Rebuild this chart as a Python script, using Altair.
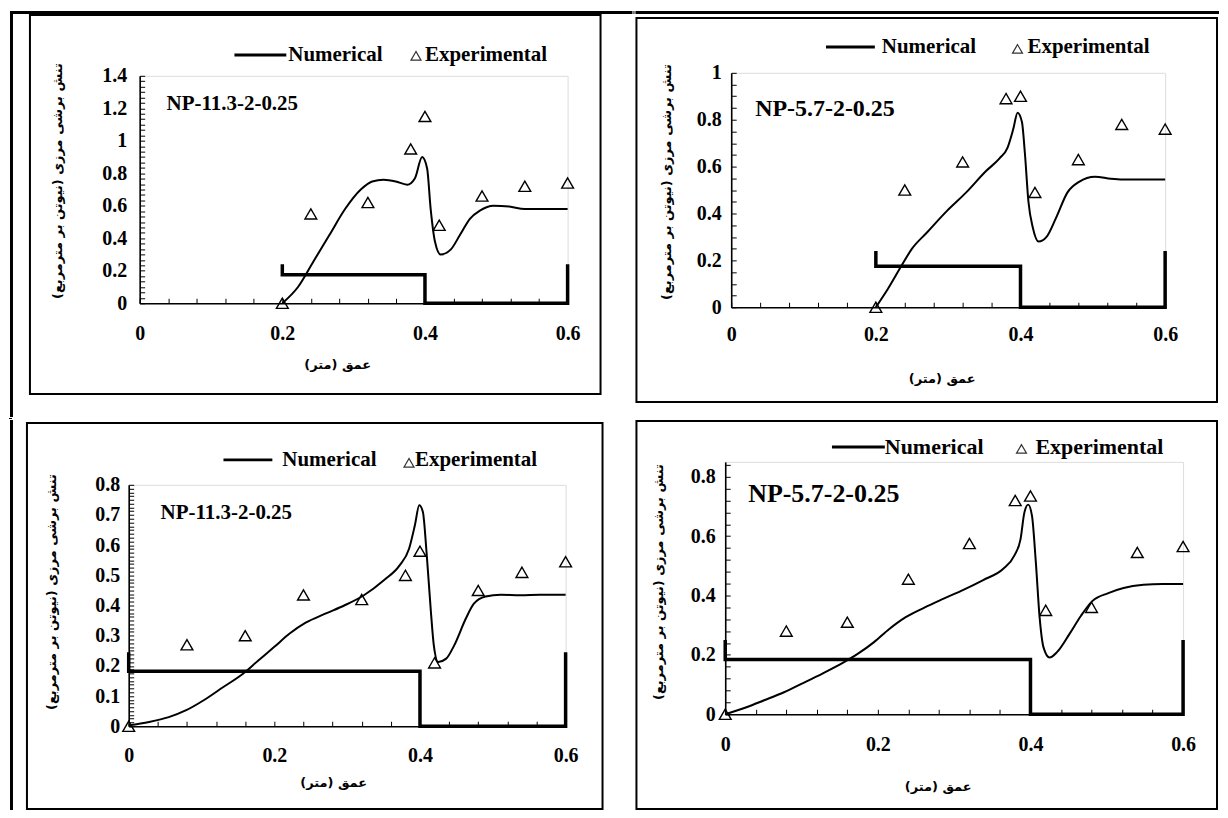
import altair as alt
import pandas as pd

FONT = "Liberation Serif"
FA_FONT = "DejaVu Sans"
Y_TITLE = "تنش برشی مرزی (نیوتن بر مترمربع)\u200f"
X_TITLE = "عمق (متر)\u200f"
NUM_LABEL = "Numerical"
EXP_LABEL = "Experimental"

# ---------------- data ----------------
# top-left panel
tl_name = "NP-11.3-2-0.25"
tl_num_x = [0.200, 0.222, 0.244, 0.266, 0.288, 0.310, 0.326, 0.342, 0.359, 0.375, 0.386, 0.396, 0.403,
            0.408, 0.414, 0.422, 0.436, 0.449, 0.463, 0.477, 0.496, 0.518, 0.540, 0.573, 0.600]
tl_num_y = [0.00, 0.10, 0.26, 0.42, 0.58, 0.70, 0.75, 0.76, 0.75, 0.73, 0.77, 0.90, 0.83,
            0.58, 0.38, 0.30, 0.33, 0.42, 0.52, 0.57, 0.60, 0.595, 0.58, 0.58, 0.58]
tl_exp_x = [0.20, 0.24, 0.32, 0.38, 0.40, 0.42, 0.48, 0.54, 0.60]
tl_exp_y = [0.00, 0.55, 0.62, 0.95, 1.15, 0.48, 0.66, 0.72, 0.74]
tl_step_x = [0.2, 0.2, 0.4, 0.4, 0.6, 0.6]
tl_step_y = [0.24, 0.175, 0.175, 0.0, 0.0, 0.24]
tl_ylabels = [0, 0.2, 0.4, 0.6, 0.8, 1, 1.2, 1.4]

# top-right panel
tr_name = "NP-5.7-2-0.25"
tr_num_x = [0.200, 0.217, 0.236, 0.250, 0.271, 0.298, 0.325, 0.352, 0.371, 0.382, 0.390, 0.396, 0.402,
            0.406, 0.411, 0.417, 0.425, 0.436, 0.449, 0.465, 0.481, 0.503, 0.525, 0.541, 0.600]
tr_num_y = [0.00, 0.08, 0.18, 0.25, 0.32, 0.41, 0.49, 0.58, 0.635, 0.68, 0.76, 0.83, 0.79,
            0.66, 0.45, 0.34, 0.28, 0.30, 0.38, 0.49, 0.535, 0.557, 0.548, 0.545, 0.545]
tr_exp_x = [0.20, 0.24, 0.32, 0.38, 0.40, 0.42, 0.48, 0.54, 0.60]
tr_exp_y = [0.00, 0.50, 0.62, 0.89, 0.90, 0.49, 0.63, 0.78, 0.76]
tr_step_x = [0.2, 0.2, 0.4, 0.4, 0.6, 0.6]
tr_step_y = [0.24, 0.175, 0.175, 0.0, 0.0, 0.24]
tr_ylabels = [0, 0.2, 0.4, 0.6, 0.8, 1]

# bottom-left panel
bl_name = "NP-11.3-2-0.25"
bl_num_x = [0.000, 0.028, 0.055, 0.079, 0.103, 0.130, 0.157, 0.178, 0.200, 0.221, 0.243, 0.270, 0.296,
            0.323, 0.350, 0.372, 0.385, 0.393, 0.399, 0.404, 0.409, 0.415, 0.419, 0.425, 0.436, 0.447,
            0.463, 0.474, 0.490, 0.511, 0.538, 0.565, 0.600]
bl_num_y = [0.003, 0.014, 0.030, 0.053, 0.086, 0.130, 0.174, 0.218, 0.263, 0.307, 0.343, 0.373, 0.400,
            0.434, 0.483, 0.533, 0.588, 0.666, 0.732, 0.710, 0.577, 0.379, 0.268, 0.213, 0.224, 0.268,
            0.357, 0.406, 0.430, 0.436, 0.434, 0.436, 0.436]
bl_exp_x = [0.00, 0.08, 0.16, 0.24, 0.32, 0.38, 0.40, 0.42, 0.48, 0.54, 0.60]
bl_exp_y = [0.00, 0.27, 0.30, 0.435, 0.42, 0.50, 0.58, 0.21, 0.45, 0.51, 0.545]
bl_step_x = [0.0, 0.0, 0.4, 0.4, 0.6, 0.6]
bl_step_y = [0.245, 0.182, 0.182, 0.0, 0.0, 0.245]
bl_ylabels = [0, 0.1, 0.2, 0.3, 0.4, 0.5, 0.6, 0.7, 0.8]

# bottom-right panel
br_name = "NP-5.7-2-0.25"
br_num_x = [0.000, 0.026, 0.051, 0.077, 0.102, 0.128, 0.154, 0.174, 0.195, 0.215, 0.236, 0.261, 0.287,
            0.312, 0.338, 0.364, 0.379, 0.387, 0.392, 0.397, 0.402, 0.407, 0.412, 0.417, 0.425, 0.435,
            0.451, 0.466, 0.481, 0.502, 0.522, 0.548, 0.573, 0.600]
br_num_y = [0.000, 0.022, 0.047, 0.074, 0.105, 0.138, 0.173, 0.204, 0.243, 0.287, 0.326, 0.359, 0.390,
            0.419, 0.452, 0.489, 0.535, 0.590, 0.679, 0.706, 0.668, 0.513, 0.326, 0.226, 0.191, 0.210,
            0.270, 0.331, 0.381, 0.408, 0.425, 0.436, 0.439, 0.439]
br_exp_x = [0.00, 0.08, 0.16, 0.24, 0.32, 0.38, 0.40, 0.42, 0.48, 0.54, 0.60]
br_exp_y = [0.00, 0.28, 0.31, 0.455, 0.575, 0.72, 0.735, 0.35, 0.36, 0.545, 0.565]
br_step_x = [0.0, 0.0, 0.4, 0.4, 0.6, 0.6]
br_step_y = [0.25, 0.184, 0.184, 0.0, 0.0, 0.25]
br_ylabels = [0, 0.2, 0.4, 0.6, 0.8]

x_labels = [0, 0.2, 0.4, 0.6]


def ticks(step, n):
    return [round(i * step, 5) for i in range(n)]


# ---------------- layout / style (pixels, relative to each plot area) ----------------
geo = {
    "tl": dict(w=429, h=228, ymax=1.4, yticks=ticks(1 / 30, 43), xlp=30, ylp=13,
               xtx=198, xty=61, ytx=-82, yty=105,
               frame=(-110, 462, -61, 319), top=(-130, 494, -65, -62), left=(-130, -127, -65, 342),
               np=(27, 28, 21), leg=dict(l1=95, l2=147, y=-21, nx=149, tx=277, ty=-20, ex=286, fs=21),
               sph_fill=None, spv_fill=None),
    "tr": dict(w=435, h=235, ymax=1.0, yticks=ticks(0.05, 21), xlp=27, ylp=10,
               xtx=211, xty=71, ytx=-65, yty=109,
               frame=(-95, 487, -55, 330), top=(-96, 489, -62, -59), left=None,
               np=(24, 36, 24), leg=dict(l1=95, l2=144, y=-26, nx=151, tx=287, ty=-24, ex=297, fs=21),
               sph_fill=(0, 1, -62, -59), spv_fill=None),
    "bl": dict(w=438, h=242, ymax=0.8, yticks=ticks(0.0125, 65), xlp=29, ylp=9,
               xtx=205, xty=56, ytx=-77, yty=107,
               frame=(-102, 475, -62, 325), top=None, left=(-119, -116, -65, 326),
               np=(32, 28, 21), leg=dict(l1=95, l2=144, y=-25, nx=154, tx=281, ty=-22, ex=287, fs=21),
               sph_fill=None, spv_fill=(1, 4, 0, 1)),
    "br": dict(w=459, h=253, ymax=0.85, yticks=ticks(0.04, 22), xlp=30, ylp=10,
               xtx=213, xty=72, ytx=-67, yty=120,
               frame=(-89, 493, -41, 348), top=None, left=None,
               np=(23, 32, 26), leg=dict(l1=107, l2=160, y=-15, nx=160, tx=297, ty=-13, ex=311, fs=22),
               sph_fill=None, spv_fill=None),
}

ONE = alt.Data(values=[{"k": 0}])
LABEL_FS = 20
TITLE_FS = 13


def prect(box, **kw):
    x1, x2, y1, y2 = box
    return alt.Chart(ONE).mark_rect(**kw).encode(
        x=alt.value(x1), x2=alt.value(x2), y=alt.value(y1), y2=alt.value(y2))


def ptext(txt, x, y, fs, **kw):
    return alt.Chart(ONE).mark_text(text=txt, font=FONT, fontSize=fs, fontWeight="bold",
                                    align="left", baseline="middle", color="black", **kw).encode(
        x=alt.value(x), y=alt.value(y))


def spacer(fill_box):
    parts = [prect((0, 1, 0, 1), opacity=0)]
    if fill_box:
        parts.append(prect(fill_box, color="black"))
    return alt.layer(*parts).properties(
        width=1, height=1,
        view=alt.ViewBackground(stroke="transparent", strokeWidth=0, fill="transparent"))


def panel(name, num_x, num_y, exp_x, exp_y, step_x, step_y, ylabels, g):
    w, h = g["w"], g["h"]
    xs = alt.Scale(domain=[0, 0.6], nice=False, zero=False)
    ys = alt.Scale(domain=[0, g["ymax"]], nice=False, zero=False)
    num = pd.DataFrame({"x": num_x, "y": num_y})
    exp = pd.DataFrame({"x": exp_x, "y": exp_y})
    stp = pd.DataFrame({"x": step_x, "y": step_y, "i": list(range(len(step_x)))})

    x_main = alt.Axis(orient="bottom", values=x_labels, format=".1~f", ticks=False, tickSize=0,
                      domainColor="black", domainWidth=1.6, grid=False, labelFont=FONT, labelFontSize=LABEL_FS,
                      labelFontWeight="bold", labelColor="black", labelPadding=g["xlp"], labelBaseline="middle",
                      labelFlush=False, labelOverlap=False, title=X_TITLE, titleFont=FA_FONT,
                      titleFontSize=TITLE_FS, titleFontWeight="bold", titleColor="black",
                      titleX=g["xtx"], titleY=g["xty"], titleAlign="center", titleBaseline="middle",
                      titleAngle=0)
    y_main = alt.Axis(orient="left", values=ylabels, format=".1~f", ticks=False, tickSize=0,
                      domainColor="black", domainWidth=1.6, grid=False, labelFont=FONT, labelFontSize=LABEL_FS,
                      labelFontWeight="bold", labelColor="black", labelPadding=g["ylp"], labelBaseline="middle",
                      labelAlign="right", labelFlush=False, labelOverlap=False, title=Y_TITLE,
                      titleFont=FA_FONT, titleFontSize=TITLE_FS, titleFontWeight="bold", titleColor="black",
                      titleX=g["ytx"], titleY=g["yty"], titleAlign="center", titleBaseline="middle",
                      titleAngle=270)
    x_tick = alt.Axis(orient="top", offset=-h, values=ticks(0.04, 16), labels=False, domain=False,
                      tickSize=5, tickColor="black", tickWidth=1, grid=False, title=None)
    y_tick = alt.Axis(orient="right", offset=-w, values=g["yticks"], labels=False, domain=False,
                      tickSize=5, tickColor="black", tickWidth=1, grid=False, title=None)

    line = alt.Chart(num).mark_line(color="black", strokeWidth=2, interpolate="monotone").encode(
        x=alt.X("x:Q", scale=xs, axis=x_main), y=alt.Y("y:Q", scale=ys, axis=y_main))
    step = alt.Chart(stp).mark_line(color="black", strokeWidth=3.5, strokeJoin="miter").encode(
        x=alt.X("x:Q", scale=xs, axis=None), y=alt.Y("y:Q", scale=ys, axis=None), order="i:Q")
    pts = alt.Chart(exp).mark_point(shape="triangle-up", filled=False, color="black", size=140,
                                    strokeWidth=1.4, opacity=1).encode(
        x=alt.X("x:Q", scale=xs, axis=x_tick), y=alt.Y("y:Q", scale=ys, axis=y_tick))

    layers = [line, step, pts, prect(g["frame"], fill="transparent", stroke="black", strokeWidth=2)]
    if g["top"]:
        layers.append(prect(g["top"], color="black"))
    if g["left"]:
        layers.append(prect(g["left"], color="black"))
    nx, ny, nfs = g["np"]
    layers.append(ptext(name, nx, ny, nfs))
    L = g["leg"]
    layers.append(alt.Chart(ONE).mark_rule(color="black", strokeWidth=3).encode(
        x=alt.value(L["l1"]), x2=alt.value(L["l2"]), y=alt.value(L["y"])))
    layers.append(ptext(NUM_LABEL, L["nx"], L["y"], L["fs"]))
    layers.append(alt.Chart(ONE).mark_point(shape="triangle-up", filled=False, color="#333", size=100,
                                            strokeWidth=1.2, opacity=1).encode(
        x=alt.value(L["tx"]), y=alt.value(L["ty"])))
    layers.append(ptext(EXP_LABEL, L["ex"], L["y"], L["fs"]))

    p = alt.layer(*layers).resolve_axis(x="independent", y="independent").properties(width=w, height=h)
    # wrap so that the cell's origin is the top-left of its outer frame
    return alt.vconcat(spacer(g["spv_fill"]),
                       alt.hconcat(spacer(g["sph_fill"]), p, spacing=0),
                       spacing=0)


tl = panel(tl_name, tl_num_x, tl_num_y, tl_exp_x, tl_exp_y, tl_step_x, tl_step_y, tl_ylabels, geo["tl"])
tr = panel(tr_name, tr_num_x, tr_num_y, tr_exp_x, tr_exp_y, tr_step_x, tr_step_y, tr_ylabels, geo["tr"])
bl = panel(bl_name, bl_num_x, bl_num_y, bl_exp_x, bl_exp_y, bl_step_x, bl_step_y, bl_ylabels, geo["bl"])
br = panel(br_name, br_num_x, br_num_y, br_exp_x, br_exp_y, br_step_x, br_step_y, br_ylabels, geo["br"])

chart = alt.concat(tl, tr, bl, br, columns=2, spacing=0, align="each", bounds="full").properties(
    padding={"left": 0, "top": 0, "right": 0, "bottom": 0}
).configure_view(stroke="#555", strokeWidth=1).configure(background="white")

chart.save("out.html", embed_options={"renderer": "svg", "actions": False})
